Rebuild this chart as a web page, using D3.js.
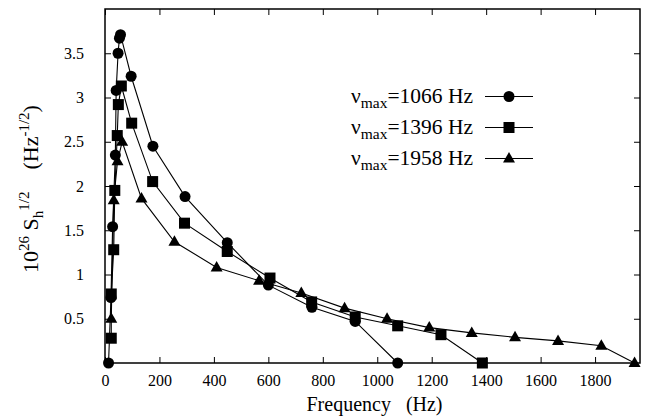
<!DOCTYPE html>
<meta charset="utf-8">
<html>
<head>
<script src="https://cdn.jsdelivr.net/npm/d3@7"></script>
<style>
  body { margin: 0; background: #fff; }
  svg text { font-family: "Liberation Serif", "Times New Roman", "DejaVu Serif", serif !important; fill: #000; }
</style>
</head>
<body>
<div id="chart"></div>
<script>
// data
const freqA = [13, 22, 28, 38, 41, 48, 53, 57, 96, 176, 294, 449, 600, 760, 919, 1075];
const ampA  = [0, 0.74, 1.54, 2.35, 3.08, 3.50, 3.67, 3.71, 3.24, 2.45, 1.88, 1.36, 0.88, 0.63, 0.47, 0];

const freqB = [23, 23, 32, 36, 45, 49, 60, 98, 175, 292, 449, 606, 759, 919, 1075, 1234, 1386];
const ampB  = [0.28, 0.78, 1.28, 1.95, 2.57, 2.92, 3.13, 2.71, 2.05, 1.58, 1.26, 0.96, 0.69, 0.52, 0.42, 0.32, 0];

const freqC = [23, 32, 46, 63, 134, 255, 410, 566, 721, 880, 1036, 1191, 1347, 1506, 1664, 1823, 1945];
const ampC  = [0.50, 1.84, 2.28, 2.50, 1.86, 1.37, 1.08, 0.93, 0.79, 0.62, 0.50, 0.40, 0.34, 0.29, 0.25, 0.195, 0];

const seriesNames = ["1066", "1396", "1958"];
const seriesMarks = ["circle", "square", "triangle"];
const xTicks = [0, 200, 400, 600, 800, 1000, 1200, 1400, 1600, 1800];
const yTicks = [0.5, 1, 1.5, 2, 2.5, 3, 3.5];

const W = 661, H = 419;
const margin = {top: 9, right: 21, bottom: 56, left: 105};
const width = W - margin.left - margin.right,
      height = H - margin.top - margin.bottom;
const serif = "'Liberation Serif', 'Times New Roman', serif";

const svg = d3.select("#chart").append("svg")
  .attr("width", W).attr("height", H)
  .attr("font-family", serif);
const g = svg.append("g")
  .attr("transform", `translate(${margin.left},${margin.top})`);

const x = d3.scaleLinear().domain([0, 1965]).range([0, width]);
const y = d3.scaleLinear().domain([0, 4]).range([height, 0]);

// axes, ticks pointing inward
g.append("g").attr("transform", `translate(0,${height})`)
  .call(d3.axisBottom(x).tickValues(xTicks).tickFormat(d3.format("d"))
    .tickSizeInner(-6).tickSizeOuter(0).tickPadding(12));
g.append("g")
  .call(d3.axisTop(x).tickValues(xTicks).tickFormat("")
    .tickSizeInner(-6).tickSizeOuter(0));
g.append("g")
  .call(d3.axisLeft(y).tickValues(yTicks).tickFormat(d => d)
    .tickSizeInner(-6).tickSizeOuter(0).tickPadding(21));
g.append("g").attr("transform", `translate(${width},0)`)
  .call(d3.axisRight(y).tickValues(yTicks).tickFormat("")
    .tickSizeInner(-6).tickSizeOuter(0));

g.selectAll(".domain").remove();
g.selectAll("g").attr("font-family", serif);
g.selectAll(".tick line").attr("stroke", "#000").attr("stroke-width", 1);
g.selectAll(".tick text").attr("font-size", 16).style("font-family", serif);

g.append("rect")
  .attr("width", width).attr("height", height)
  .attr("fill", "none").attr("stroke", "#000").attr("stroke-width", 1.5);

// series
const series = [
  freqA.map((f, i) => [f, ampA[i]]),
  freqB.map((f, i) => [f, ampB[i]]),
  freqC.map((f, i) => [f, ampC[i]])
];

const line = d3.line().x(d => x(d[0])).y(d => y(d[1]));

function drawMark(sel, type) {
  if (type === "circle") {
    sel.append("circle").attr("r", 5.5).attr("fill", "#000");
  } else if (type === "square") {
    sel.append("rect").attr("x", -5.5).attr("y", -5.5)
      .attr("width", 11).attr("height", 11).attr("fill", "#000");
  } else {
    sel.append("path").attr("d", "M0,-6.5L6,4L-6,4Z").attr("fill", "#000");
  }
}

// draw circles last so they sit on top
[2, 1, 0].forEach(k => {
  g.append("path").datum(series[k])
    .attr("d", line).attr("fill", "none")
    .attr("stroke", "#000").attr("stroke-width", 1.1);
  g.append("g").selectAll("g")
    .data(series[k]).enter().append("g")
    .attr("transform", d => `translate(${x(d[0])},${y(d[1])})`)
    .each(function() { drawMark(d3.select(this), seriesMarks[k]); });
});

// legend
const legY = [96.5, 127.5, 158.5];
seriesNames.forEach((name, i) => {
  const t = svg.append("text")
    .attr("x", 473).attr("y", legY[i] + 6)
    .attr("text-anchor", "end")
    .style("font-size", "21.5px");
  t.append("tspan").text("\u03bd");
  t.append("tspan").attr("dy", 5).style("font-size", "15.5px").text("max");
  t.append("tspan").attr("dy", -5).text("=" + name + " Hz");

  svg.append("line")
    .attr("x1", 485).attr("x2", 533)
    .attr("y1", legY[i]).attr("y2", legY[i])
    .attr("stroke", "#000").attr("stroke-width", 1.1);
  const m = svg.append("g").attr("transform", `translate(509,${legY[i]})`);
  drawMark(m, seriesMarks[i]);
});

// axis titles
svg.append("text")
  .attr("x", margin.left + width / 2 + 2).attr("y", 411)
  .attr("text-anchor", "middle")
  .style("font-size", "20px")
  .style("white-space", "pre")
  .text("Frequency   (Hz)");

const yl = svg.append("text")
  .attr("transform", "translate(38,189) rotate(-90)")
  .attr("text-anchor", "middle")
  .style("font-size", "22px")
  .style("white-space", "pre");
yl.append("tspan").text("10");
yl.append("tspan").attr("dy", -9).style("font-size", "15px").text("26");
yl.append("tspan").attr("dy", 9).text(" S");
yl.append("tspan").attr("dy", 5).style("font-size", "15px").text("h");
yl.append("tspan").attr("dy", -14).style("font-size", "15px").text("1/2");
yl.append("tspan").attr("dy", 9).text("    (Hz");
yl.append("tspan").attr("dy", -9).style("font-size", "15px").text("-1/2");
yl.append("tspan").attr("dy", 9).text(")");
</script>
</body>
</html>
